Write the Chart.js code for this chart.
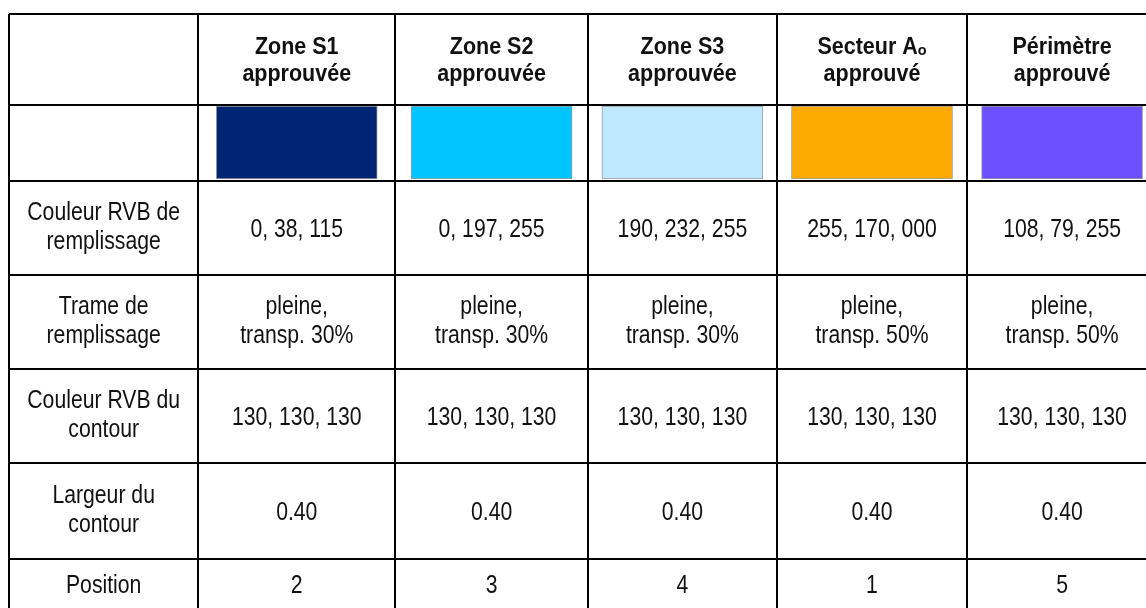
<!DOCTYPE html>
<html>
<head>
<meta charset="utf-8">
<script src="https://cdn.jsdelivr.net/npm/chart.js@4.4.1/dist/chart.umd.min.js"></script>
<style>
  html, body { margin: 0; padding: 0; background: #fff; overflow: hidden; }
  canvas { display: block; }
</style>
</head>
<body>
<canvas id="myChart" width="1180" height="680"></canvas>
<script>
// table content
const zones = [["Zone S1", "approuvée"], ["Zone S2", "approuvée"], ["Zone S3", "approuvée"], ["Secteur Aₒ", "approuvé"], ["Périmètre", "approuvé"]];
const rowLabels = [["Couleur RVB de", "remplissage"], ["Trame de", "remplissage"], ["Couleur RVB du", "contour"], ["Largeur du", "contour"], ["Position"]];
const fillRGB = ["0, 38, 115", "0, 197, 255", "190, 232, 255", "255, 170, 000", "108, 79, 255"];
const transparency = [30, 30, 30, 50, 50];
const contourRGB = ["130, 130, 130", "130, 130, 130", "130, 130, 130", "130, 130, 130", "130, 130, 130"];
const contourWidth = [0.4, 0.4, 0.4, 0.4, 0.4];
const position = [2, 3, 4, 1, 5];

// layout (relative cell sizes)
const colWidths = [189.5, 197, 193, 189, 190.5, 190];
const rowHeights = [90.5, 76, 94, 94, 95, 95, 51];

const edges = (sizes) => sizes.reduce((acc, s) => { acc.push(acc[acc.length - 1] + s); return acc; }, [0]);
const colEdges = edges(colWidths);
const rowEdges = edges(rowHeights);
const colCenter = (c) => (colEdges[c] + colEdges[c + 1]) / 2;
const rowCenter = (r) => (rowEdges[r] + rowEdges[r + 1]) / 2;

const bold = { font: 'bold 21.5px "Liberation Sans", Arial, sans-serif', size: 21.5, sy: 1.08, lead: 27.7, shift: 0 };
const regular = { font: '21.2px "Liberation Sans", Arial, sans-serif', size: 21.2, sy: 1.2, lead: 29, shift: 2.3 };

function drawLines(ctx, lines, cx, cy, style) {
  const capH = 0.716 * style.size * style.sy;
  const n = lines.length;
  const first = cy - (n - 1) * style.lead / 2 + capH / 2 - (n > 1 ? style.shift : 0);
  ctx.font = style.font;
  lines.forEach((t, k) => {
    ctx.save();
    ctx.translate(cx, first + k * style.lead);
    ctx.scale(1, style.sy);
    ctx.fillText(t, 0, 0);
    ctx.restore();
  });
}

const tableText = {
  id: "tableText",
  afterDatasetsDraw(chart) {
    const ctx = chart.ctx;
    const x = chart.scales.x;
    const y = chart.scales.y;
    ctx.save();
    ctx.fillStyle = "#111";
    ctx.textAlign = "center";
    ctx.textBaseline = "alphabetic";

    zones.forEach((z, i) => {
      drawLines(ctx, z, x.getPixelForValue(colCenter(i + 1)), y.getPixelForValue(rowCenter(0)), bold);
    });

    rowLabels.forEach((lab, r) => {
      drawLines(ctx, lab, x.getPixelForValue(colCenter(0)), y.getPixelForValue(rowCenter(r + 2)), regular);
    });

    zones.forEach((z, i) => {
      const cx = x.getPixelForValue(colCenter(i + 1));
      const cells = [
        [fillRGB[i]],
        ["pleine,", "transp. " + transparency[i] + "%"],
        [contourRGB[i]],
        [contourWidth[i].toFixed(2)],
        [String(position[i])],
      ];
      cells.forEach((lines, r) => {
        drawLines(ctx, lines, cx, y.getPixelForValue(rowCenter(r + 2)), regular);
      });
    });
    ctx.restore();
  },
};

const ctx = document.getElementById("myChart");
const inset = 1.5;

new Chart(ctx, {
  type: "bar",
  data: {
    datasets: [
      {
        data: zones.map((z, i) => ({ x: colCenter(i + 1), y: [rowEdges[1] + inset, rowEdges[2] - inset] })),
        backgroundColor: fillRGB.map((c) => "rgb(" + c + ")"),
        borderColor: "rgba(130, 130, 130, 0.8)",
        borderWidth: 1,
        borderSkipped: false,
        barThickness: 161,
        grouped: false,
      },
    ],
  },
  options: {
    responsive: false,
    animation: false,
    layout: { padding: { left: 9, top: 14, right: 23, bottom: 70.5 } },
    plugins: { legend: { display: false }, tooltip: { enabled: false } },
    scales: {
      x: {
        type: "linear",
        offset: false,
        min: 0,
        max: colEdges[colEdges.length - 1],
        afterBuildTicks: (s) => { s.ticks = colEdges.map((v) => ({ value: v })); },
        ticks: { display: false },
        grid: { color: "#000", lineWidth: 2, drawTicks: false, offset: false },
        border: { display: false },
      },
      y: {
        type: "linear",
        reverse: true,
        min: 0,
        max: rowEdges[rowEdges.length - 1],
        afterBuildTicks: (s) => { s.ticks = rowEdges.map((v) => ({ value: v })); },
        ticks: { display: false },
        grid: { color: "#000", lineWidth: 2, drawTicks: false },
        border: { display: false },
      },
    },
  },
  plugins: [tableText],
});
</script>
</body>
</html>
